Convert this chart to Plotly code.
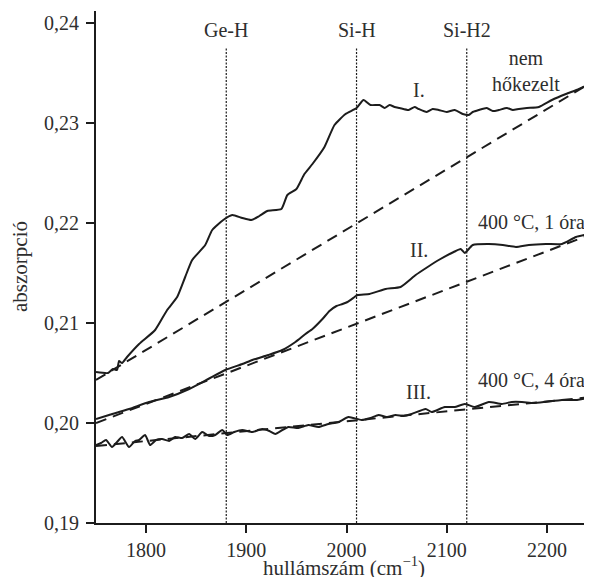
import plotly.graph_objects as go

# ---------------- data ----------------
x_I = [1750, 1762, 1767, 1771, 1773, 1776, 1781, 1793, 1809, 1821, 1831, 1839, 1846,
       1859, 1866, 1877, 1886, 1896, 1905, 1913, 1921, 1935, 1941, 1950, 1958, 1966,
       1978, 1988, 1999, 2010, 2017, 2024, 2033, 2038, 2043, 2048, 2053, 2062, 2068,
       2072, 2080, 2086, 2092, 2100, 2108, 2116, 2122, 2126, 2132, 2140, 2146, 2152,
       2160, 2166, 2172, 2180, 2192, 2205, 2219, 2232, 2242, 2245]
y_I = [0.2051, 0.2050, 0.2054, 0.2053, 0.2062, 0.2060, 0.2066, 0.2079, 0.2093, 0.2113,
       0.2126, 0.2146, 0.2163, 0.2178, 0.2193, 0.2203, 0.2208, 0.2205, 0.2203, 0.2207,
       0.2212, 0.2214, 0.2228, 0.2234, 0.2249, 0.2259, 0.2276, 0.2298, 0.2309, 0.2315,
       0.2323, 0.2318, 0.2318, 0.2315, 0.2318, 0.2316, 0.2315, 0.2313, 0.2316, 0.2314,
       0.2311, 0.2314, 0.2313, 0.2311, 0.2313, 0.2309, 0.2308, 0.2311, 0.2313, 0.2315,
       0.2312, 0.2313, 0.2315, 0.2313, 0.2314, 0.2315, 0.2316, 0.2323, 0.2329, 0.2334,
       0.2339, 0.2341]

x_II = [1750, 1763, 1783, 1803, 1823, 1843, 1862, 1879, 1896, 1906, 1922, 1936, 1949,
        1959, 1966, 1976, 1983, 1990, 1996, 2001, 2008, 2011, 2023, 2039, 2054, 2069,
        2081, 2092, 2107, 2114, 2118, 2126, 2142, 2156, 2169, 2182, 2199, 2215, 2229,
        2242, 2245]
y_II = [0.2004, 0.2008, 0.2014, 0.2021, 0.2026, 0.2034, 0.2044, 0.2053, 0.2059, 0.2063,
        0.2068, 0.2073, 0.2081, 0.2089, 0.2094, 0.2104, 0.2112, 0.2117, 0.2119, 0.2121,
        0.2126, 0.2128, 0.2129, 0.2134, 0.2136, 0.2148, 0.2156, 0.2163, 0.2171, 0.2174,
        0.2170, 0.2178, 0.2179, 0.2178, 0.2176, 0.2178, 0.2179, 0.2179, 0.2186, 0.2189,
        0.2190]

x_III = [1750, 1755, 1760, 1766, 1771, 1776, 1783, 1789, 1793, 1799, 1804, 1810, 1816,
         1823, 1829, 1836, 1843, 1849, 1856, 1863, 1869, 1876, 1881, 1888, 1896, 1906,
         1916, 1923, 1929, 1936, 1942, 1952, 1962, 1972, 1982, 1992, 2002, 2015, 2024,
         2032, 2040, 2049, 2057, 2065, 2079, 2085, 2098, 2108, 2118, 2128, 2142, 2155,
         2165, 2175, 2187, 2198, 2215, 2230, 2241, 2245]
y_III = [0.1978, 0.1980, 0.1983, 0.1976, 0.1981, 0.1986, 0.1976, 0.1982, 0.1983, 0.1988,
         0.1978, 0.1983, 0.1984, 0.1982, 0.1986, 0.1985, 0.1989, 0.1984, 0.1991, 0.1987,
         0.1988, 0.1993, 0.1988, 0.1991, 0.1993, 0.1991, 0.1994, 0.1992, 0.1989, 0.1993,
         0.1996, 0.1995, 0.1998, 0.1996, 0.1999, 0.2001, 0.2006, 0.2003, 0.2005, 0.2008,
         0.2006, 0.2008, 0.2007, 0.2009, 0.2014, 0.2011, 0.2016, 0.2016, 0.2019, 0.2016,
         0.2021, 0.2019, 0.2021, 0.2021, 0.2020, 0.2021, 0.2023, 0.2023, 0.2025, 0.2026]

# dashed baselines: [start, end]
base_x = [1750, 2245]
base_I = [0.2043, 0.2341]
base_II = [0.2000, 0.2189]
base_III = [0.1977, 0.2026]

# marker lines for bonds
peak_names = ["Ge-H", "Si-H", "Si-H2"]
peak_pos = [1880, 2010, 2120]
peak_line_top = 0.2375
peak_label_y = 0.2393

x_ticks = [1800, 1900, 2000, 2100, 2200]
x_tick_labels = ["1800", "1900", "2000", "2100", "2200"]
y_ticks = [0.19, 0.20, 0.21, 0.22, 0.23, 0.24]
y_tick_labels = ["0,19", "0,20", "0,21", "0,22", "0,23", "0,24"]

x_range = [1750, 2245]
y_range = [0.19, 0.2412]

# curve labels: (x, y, text)
curve_labels = [
    (2072, 0.2333, "I."),
    (2072, 0.2173, "II."),
    (2072, 0.2031, "III."),
]
condition_labels = [
    (2179, 0.2352, "nem<br>hőkezelt", "center"),
    (2129, 0.2201, "400 °C, 1 óra", "left"),
    (2129, 0.2043, "400 °C, 4 óra", "left"),
]

FONT = "Liberation Serif"
FS = 20
FS_TITLE = 21
INK = "#1c1c1c"
TXT = "#2e2e2e"

fig = go.Figure()

for name, px in zip(peak_names, peak_pos):
    fig.add_trace(go.Scatter(x=[px, px], y=[y_range[0], peak_line_top], mode="lines",
                             line=dict(color=INK, width=1.2, dash="2px,1.5px"),
                             hoverinfo="skip", showlegend=False))

for yb in (base_I, base_II, base_III):
    fig.add_trace(go.Scatter(x=base_x, y=yb, mode="lines",
                             line=dict(color=INK, width=2, dash="11px,7px"),
                             showlegend=False))

for xs, ys in ((x_I, y_I), (x_II, y_II), (x_III, y_III)):
    fig.add_trace(go.Scatter(x=xs, y=ys, mode="lines",
                             line=dict(color=INK, width=2, shape="spline", smoothing=0.5),
                             showlegend=False))

annotations = []
for name, px in zip(peak_names, peak_pos):
    annotations.append(dict(x=px, y=peak_label_y, xref="x", yref="y", text=name,
                             showarrow=False, font=dict(family=FONT, size=FS, color=TXT)))
for x, y, t in curve_labels:
    annotations.append(dict(x=x, y=y, xref="x", yref="y", text=t, showarrow=False,
                            font=dict(family=FONT, size=FS, color=TXT)))
for x, y, t, anc in condition_labels:
    annotations.append(dict(x=x, y=y, xref="x", yref="y", text=t, showarrow=False,
                            xanchor=anc, align="center",
                            font=dict(family=FONT, size=FS, color=TXT)))
annotations.append(dict(x=0.5, y=0, xref="paper", yref="paper", yanchor="top",
                        yshift=-28, text="hullámszám (cm<sup>−1</sup>)", showarrow=False,
                        font=dict(family=FONT, size=FS_TITLE, color=TXT)))
annotations.append(dict(x=0, y=0.5, xref="paper", yref="paper", xanchor="center",
                        xshift=-76, textangle=-90, text="abszorpció", showarrow=False,
                        font=dict(family=FONT, size=FS_TITLE, color=TXT)))

# the page body adds an 8 px offset, so the figure is 8 px smaller with shifted margins
fig.update_layout(
    width=584, height=569,
    margin=dict(l=88, r=0, t=3, b=54),
    paper_bgcolor="white", plot_bgcolor="white",
    showlegend=False,
    annotations=annotations,
    font=dict(family=FONT, size=FS, color=TXT),
    xaxis=dict(range=x_range, tickvals=x_ticks, ticktext=x_tick_labels,
               showgrid=False, zeroline=False, showline=True, linecolor=INK, linewidth=2,
               ticks="outside", ticklen=8, tickwidth=1.5, tickcolor=INK,
               tickfont=dict(family=FONT, size=FS, color=TXT)),
    yaxis=dict(range=y_range, tickvals=y_ticks, ticktext=y_tick_labels,
               showgrid=False, zeroline=False, showline=True, linecolor=INK, linewidth=2,
               ticks="outside", ticklen=8, tickwidth=1.5, tickcolor=INK,
               ticklabelstandoff=3,
               tickfont=dict(family=FONT, size=FS, color=TXT)),
)

fig.write_html("out.html")
